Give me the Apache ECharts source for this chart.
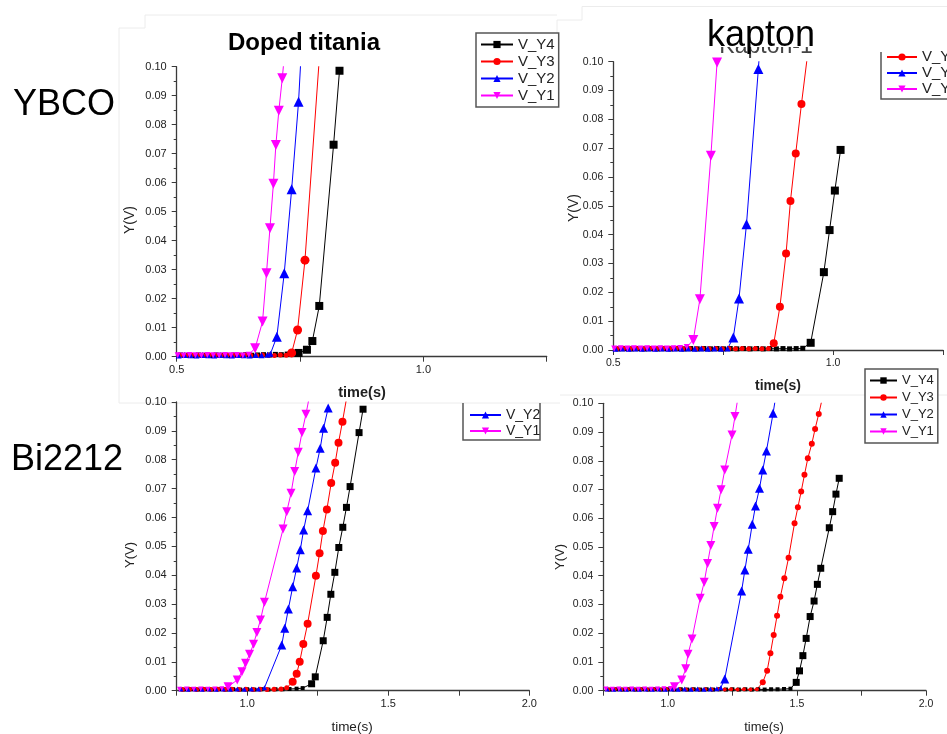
<!DOCTYPE html>
<html>
<head>
<meta charset="utf-8">
<script src="https://cdn.jsdelivr.net/npm/echarts@6/dist/echarts.min.js"></script>
<style>
html,body{margin:0;padding:0;background:#fff;}
#c{width:947px;height:734px;}
</style>
</head>
<body>
<div id="c"></div>
<script>
// ---------- DATA: [time(s), Y(V)] ----------
// YBCO / Doped titania
const ybDtY1 = [[0.502,0.0005],[0.514,0.0004],[0.526,0.0006],[0.538,0.0005],[0.550,0.0004],[0.562,0.0006],[0.574,0.0005],[0.586,0.0004],[0.598,0.0006],[0.610,0.0005],[0.622,0.0006],[0.634,0.0004],[0.646,0.0007],[0.659,0.0029],[0.674,0.0121],[0.682,0.0288],[0.689,0.0443],[0.696,0.0596],[0.701,0.0730],[0.707,0.0848],[0.714,0.0960],[0.720,0.1070]];
const ybDtY2 = [[0.504,0.0004],[0.516,0.0006],[0.528,0.0005],[0.540,0.0004],[0.552,0.0006],[0.564,0.0005],[0.576,0.0004],[0.588,0.0006],[0.600,0.0005],[0.612,0.0004],[0.624,0.0006],[0.636,0.0005],[0.648,0.0004],[0.660,0.0006],[0.672,0.0005],[0.684,0.0007],[0.690,0.0010],[0.703,0.0069],[0.718,0.0288],[0.733,0.0577],[0.747,0.0879],[0.754,0.1100]];
const ybDtY3 = [[0.506,0.0005],[0.518,0.0004],[0.530,0.0006],[0.542,0.0005],[0.554,0.0004],[0.566,0.0006],[0.578,0.0005],[0.590,0.0004],[0.602,0.0006],[0.614,0.0005],[0.626,0.0004],[0.638,0.0006],[0.650,0.0005],[0.662,0.0004],[0.674,0.0006],[0.686,0.0005],[0.698,0.0004],[0.710,0.0006],[0.722,0.0005],[0.733,0.0013],[0.745,0.0092],[0.760,0.0333],[0.790,0.1050]];
const ybDtY4 = [[0.508,0.0006],[0.520,0.0005],[0.532,0.0004],[0.544,0.0006],[0.556,0.0005],[0.568,0.0004],[0.580,0.0006],[0.592,0.0005],[0.604,0.0004],[0.616,0.0006],[0.628,0.0005],[0.640,0.0007],[0.652,0.0005],[0.664,0.0006],[0.676,0.0007],[0.688,0.0006],[0.700,0.0008],[0.712,0.0007],[0.724,0.0009],[0.736,0.0010],[0.747,0.0013],[0.764,0.0024],[0.775,0.0054],[0.789,0.0175],[0.818,0.0731],[0.830,0.0986]];

// YBCO / kapton
const ybKpY1 = [[0.502,0.0005],[0.517,0.0006],[0.532,0.0005],[0.547,0.0006],[0.562,0.0005],[0.577,0.0006],[0.592,0.0005],[0.607,0.0006],[0.622,0.0005],[0.637,0.0006],[0.652,0.0007],[0.667,0.0010],[0.682,0.0035],[0.697,0.0176],[0.722,0.0674],[0.736,0.0997]];
const ybKpY2 = [[0.505,0.0004],[0.520,0.0005],[0.535,0.0004],[0.550,0.0005],[0.565,0.0004],[0.580,0.0005],[0.595,0.0004],[0.610,0.0005],[0.625,0.0004],[0.640,0.0005],[0.655,0.0004],[0.670,0.0005],[0.685,0.0004],[0.700,0.0005],[0.715,0.0004],[0.730,0.0005],[0.745,0.0004],[0.760,0.0005],[0.773,0.0043],[0.786,0.0179],[0.803,0.0436],[0.830,0.0975],[0.843,0.1250]];
const ybKpY3 = [[0.508,0.0004],[0.523,0.0005],[0.538,0.0004],[0.553,0.0005],[0.568,0.0004],[0.583,0.0005],[0.598,0.0004],[0.613,0.0005],[0.628,0.0004],[0.643,0.0005],[0.658,0.0004],[0.673,0.0005],[0.688,0.0004],[0.703,0.0005],[0.718,0.0004],[0.733,0.0005],[0.748,0.0004],[0.763,0.0005],[0.778,0.0004],[0.793,0.0005],[0.808,0.0004],[0.823,0.0005],[0.838,0.0004],[0.853,0.0005],[0.865,0.0023],[0.879,0.0150],[0.893,0.0335],[0.903,0.0517],[0.915,0.0682],[0.928,0.0853],[0.942,0.1025]];
const ybKpY4 = [[0.511,0.0004],[0.526,0.0005],[0.541,0.0004],[0.556,0.0005],[0.571,0.0004],[0.586,0.0005],[0.601,0.0004],[0.616,0.0005],[0.631,0.0004],[0.646,0.0005],[0.661,0.0004],[0.676,0.0005],[0.691,0.0004],[0.706,0.0005],[0.721,0.0004],[0.736,0.0005],[0.751,0.0004],[0.766,0.0005],[0.781,0.0004],[0.796,0.0005],[0.811,0.0004],[0.826,0.0005],[0.841,0.0004],[0.856,0.0005],[0.871,0.0004],[0.886,0.0005],[0.901,0.0004],[0.916,0.0005],[0.931,0.0006],[0.949,0.0025],[0.979,0.0270],[0.992,0.0416],[1.004,0.0553],[1.017,0.0694]];

// Bi2212 / Doped titania
const biDtY1 = [[0.760,0.0005],[0.785,0.0006],[0.810,0.0005],[0.835,0.0006],[0.860,0.0005],[0.885,0.0006],[0.910,0.0007],[0.932,0.0014],[0.9647,0.0037],[0.9813,0.0066],[0.9941,0.0095],[1.0082,0.0126],[1.0224,0.0161],[1.0342,0.0202],[1.047,0.0245],[1.0611,0.0306],[1.1271,0.0560],[1.1401,0.0620],[1.1553,0.0684],[1.1683,0.0759],[1.181,0.0826],[1.1941,0.0894],[1.2082,0.0958],[1.222,0.1027]];
const biDtY2 = [[0.765,0.0006],[0.790,0.0005],[0.815,0.0006],[0.840,0.0005],[0.865,0.0006],[0.890,0.0005],[0.915,0.0006],[0.940,0.0005],[0.965,0.0006],[0.990,0.0005],[1.015,0.0006],[1.040,0.0006],[1.061,0.0010],[1.1224,0.0158],[1.133,0.0216],[1.1459,0.0283],[1.1612,0.0360],[1.1753,0.0425],[1.1882,0.0488],[1.200,0.0557],[1.2141,0.0623],[1.2435,0.0771],[1.2588,0.0840],[1.2706,0.0909],[1.287,0.0979]];
const biDtY3 = [[0.770,0.0004],[0.795,0.0005],[0.820,0.0004],[0.845,0.0005],[0.870,0.0004],[0.895,0.0005],[0.920,0.0004],[0.945,0.0005],[0.970,0.0004],[0.995,0.0005],[1.020,0.0004],[1.045,0.0005],[1.070,0.0004],[1.095,0.0005],[1.120,0.0006],[1.1401,0.0010],[1.1612,0.0031],[1.1753,0.0059],[1.186,0.0100],[1.1988,0.0162],[1.2141,0.0232],[1.2435,0.0398],[1.2565,0.0476],[1.2683,0.0553],[1.2824,0.0628],[1.2977,0.0719],[1.3118,0.0790],[1.3236,0.0859],[1.3377,0.0932],[1.352,0.1012]];
const biDtY4 = [[0.775,0.0004],[0.800,0.0005],[0.825,0.0004],[0.850,0.0005],[0.875,0.0004],[0.900,0.0005],[0.925,0.0004],[0.950,0.0005],[0.975,0.0004],[1.000,0.0005],[1.025,0.0004],[1.050,0.0005],[1.075,0.0004],[1.100,0.0005],[1.125,0.0005],[1.150,0.0006],[1.175,0.0007],[1.1965,0.0009],[1.2283,0.0024],[1.2412,0.0048],[1.2694,0.0173],[1.2835,0.0254],[1.2965,0.0334],[1.3106,0.0410],[1.3247,0.0496],[1.3388,0.0566],[1.3518,0.0635],[1.3647,0.0707],[1.3965,0.0894],[1.4106,0.0975]];

// Bi2212 / kapton
const biKpY1 = [[0.760,0.0006],[0.785,0.0005],[0.810,0.0006],[0.835,0.0005],[0.860,0.0006],[0.885,0.0005],[0.910,0.0006],[0.935,0.0005],[0.960,0.0006],[0.985,0.0007],[1.010,0.0008],[1.0256,0.0014],[1.0538,0.0037],[1.0692,0.0076],[1.0781,0.0127],[1.0935,0.0180],[1.1254,0.0322],[1.1408,0.0377],[1.1538,0.0443],[1.1665,0.0505],[1.1792,0.0571],[1.1923,0.0635],[1.2062,0.0699],[1.2204,0.0768],[1.2485,0.0890],[1.2600,0.0954],[1.2750,0.1040]];
const biKpY2 = [[0.765,0.0006],[0.790,0.0005],[0.815,0.0006],[0.840,0.0005],[0.865,0.0006],[0.890,0.0005],[0.915,0.0006],[0.940,0.0005],[0.965,0.0006],[0.990,0.0005],[1.015,0.0006],[1.040,0.0005],[1.065,0.0006],[1.090,0.0005],[1.115,0.0006],[1.140,0.0005],[1.165,0.0006],[1.190,0.0007],[1.205,0.0010],[1.2204,0.0041],[1.2858,0.0347],[1.2985,0.0420],[1.3115,0.0492],[1.3269,0.0579],[1.3396,0.0643],[1.3550,0.0704],[1.3677,0.0768],[1.3819,0.0834],[1.4077,0.0965],[1.4200,0.1035]];
const biKpY3 = [[0.770,0.0004],[0.795,0.0005],[0.820,0.0004],[0.845,0.0005],[0.870,0.0004],[0.895,0.0005],[0.920,0.0004],[0.945,0.0005],[0.970,0.0004],[0.995,0.0005],[1.020,0.0004],[1.045,0.0005],[1.070,0.0004],[1.095,0.0005],[1.120,0.0004],[1.145,0.0005],[1.170,0.0004],[1.195,0.0005],[1.220,0.0004],[1.245,0.0005],[1.270,0.0004],[1.295,0.0005],[1.320,0.0004],[1.345,0.0005],[1.3677,0.0029],[1.3846,0.0069],[1.3973,0.0130],[1.4100,0.0194],[1.4231,0.0261],[1.4358,0.0327],[1.4512,0.0391],[1.4677,0.0463],[1.4908,0.0583],[1.5038,0.0638],[1.5165,0.0693],[1.5292,0.0751],[1.5423,0.0809],[1.5577,0.0859],[1.5704,0.0911],[1.5846,0.0963],[1.5990,0.1020]];
const biKpY4 = [[0.775,0.0004],[0.800,0.0005],[0.825,0.0004],[0.850,0.0005],[0.875,0.0004],[0.900,0.0005],[0.925,0.0004],[0.950,0.0005],[0.975,0.0004],[1.000,0.0005],[1.025,0.0004],[1.050,0.0005],[1.075,0.0004],[1.100,0.0005],[1.125,0.0004],[1.150,0.0005],[1.175,0.0004],[1.200,0.0005],[1.225,0.0004],[1.250,0.0005],[1.275,0.0004],[1.300,0.0005],[1.325,0.0004],[1.350,0.0005],[1.375,0.0004],[1.400,0.0005],[1.425,0.0005],[1.450,0.0006],[1.475,0.0007],[1.4973,0.0029],[1.5100,0.0069],[1.5231,0.0122],[1.5358,0.0182],[1.5512,0.0258],[1.5665,0.0312],[1.5792,0.0370],[1.5923,0.0426],[1.6254,0.0567],[1.6385,0.0623],[1.6512,0.0684],[1.6638,0.0739]];

const seriesNames = ['V_Y4','V_Y3','V_Y2','V_Y1'];
const xRanges = [[0.5,1.25],[0.5,1.25],[0.75,2.0],[0.75,2.0]];
const yRange = [0, 0.1];
const rowLabels = ['YBCO','Bi2212'];
const panelTitles = ['Doped titania','kapton'];

// ---------- STYLE ----------
const FONT = '"Liberation Sans", Arial, sans-serif';
const COLORS = {V_Y4:'#000000', V_Y3:'#ff0000', V_Y2:'#0000ff', V_Y1:'#ff00ff'};
const SYMBOLS = {V_Y4:['rect',0], V_Y3:['circle',0], V_Y2:['triangle',0], V_Y1:['triangle',180]};

const panelData = [
  {V_Y4:ybDtY4, V_Y3:ybDtY3, V_Y2:ybDtY2, V_Y1:ybDtY1},
  {V_Y4:ybKpY4, V_Y3:ybKpY3, V_Y2:ybKpY2, V_Y1:ybKpY1},
  {V_Y4:biDtY4, V_Y3:biDtY3, V_Y2:biDtY2, V_Y1:biDtY1},
  {V_Y4:biKpY4, V_Y3:biKpY3, V_Y2:biKpY2, V_Y1:biKpY1}
];
const grids = [
  {left:176.7, top:66.7, width:370, height:290},
  {left:613.3, top:61.7, width:329.7, height:288.3},
  {left:176.7, top:402, width:352.6, height:288.7},
  {left:603.3, top:403.3, width:322.7, height:287.4}
];
const symSizes = [
  {V_Y4:8, V_Y3:9, V_Y2:10, V_Y1:10},
  {V_Y4:8, V_Y3:8, V_Y2:10, V_Y1:10},
  {V_Y4:7, V_Y3:8, V_Y2:9, V_Y1:9},
  {V_Y4:7, V_Y3:6, V_Y2:9, V_Y1:9}
];
const labelFs = [11, 10.5, 11, 10.5];

const xAxes = xRanges.map((r, i) => ({
  type:'value', gridIndex:i, min:r[0], max:r[1], interval:0.25,
  axisLine:{show:true, onZero:false, lineStyle:{color:'#3a3a3a', width:1.3}},
  axisTick:{show:true, inside:false, length:5, lineStyle:{color:'#3a3a3a', width:1}},
  minorTick:{show:false}, splitLine:{show:false},
  axisLabel:{fontFamily:FONT, fontSize:labelFs[i], color:'#222', margin:8,
    formatter: v => (Math.abs(v*2 - Math.round(v*2)) < 1e-6 ? v.toFixed(1) : '')}
}));
const yAxes = grids.map((g, i) => ({
  type:'value', gridIndex:i, min:yRange[0], max:yRange[1], interval:0.01,
  axisLine:{show:true, onZero:false, lineStyle:{color:'#3a3a3a', width:1.3}},
  axisTick:{show:true, inside:false, length:5, lineStyle:{color:'#3a3a3a', width:1}},
  minorTick:{show:true, splitNumber:2, length:3, lineStyle:{color:'#3a3a3a', width:1}},
  splitLine:{show:false},
  axisLabel:{fontFamily:FONT, fontSize:labelFs[i], color:'#222', margin:10,
    formatter: v => v.toFixed(2)}
}));

const series = [];
panelData.forEach((pd, i) => {
  seriesNames.forEach(n => {
    const big = symSizes[i][n];
    series.push({
      type:'line', name:n, xAxisIndex:i, yAxisIndex:i, data:pd[n],
      symbol:SYMBOLS[n][0], symbolRotate:SYMBOLS[n][1],
      symbolSize:(v) => (v[1] < 0.0012 ? Math.round(big*0.6) : big),
      itemStyle:{color:COLORS[n]}, lineStyle:{color:COLORS[n], width:1},
      clip:true, animation:false, emphasis:{disabled:true}
    });
  });
});

const legTxt = (fs, lh) => ({fontFamily:FONT, fontSize:fs, color:'#222', lineHeight:lh});
const legends = [
  {data:['V_Y4','V_Y3','V_Y2','V_Y1'], orient:'vertical', left:476, top:33, padding:[3,4,3,4],
   itemGap:0, itemWidth:32, itemHeight:9, itemTextGap:4, borderColor:'#555', borderWidth:1.5,
   backgroundColor:'#fff', textStyle:legTxt(15,17), selectedMode:false},
  {data:['V_Y3','V_Y2','V_Y1'], orient:'vertical', left:886, top:49, padding:0,
   itemGap:0, itemWidth:30, itemHeight:9, itemTextGap:3, textStyle:legTxt(15,16), selectedMode:false},
  {data:['V_Y2','V_Y1'], orient:'vertical', left:469, top:407, padding:0,
   itemGap:0, itemWidth:31, itemHeight:9, itemTextGap:3, textStyle:legTxt(14,16), selectedMode:false},
  {data:['V_Y4','V_Y3','V_Y2','V_Y1'], orient:'vertical', left:865, top:369, padding:[3,4,3,4],
   itemGap:0, itemWidth:27, itemHeight:8, itemTextGap:3, borderColor:'#555', borderWidth:1.5,
   backgroundColor:'#fff', textStyle:legTxt(13,17), selectedMode:false}
];

const faint = '#ececec';
const txt = (x, y, t, fs, opts={}) => ({
  type:'text', x, y, style:{text:t, fontFamily:FONT, fontSize:fs, fill:opts.fill||'#111',
  fontWeight:opts.weight||'normal', align:'center', verticalAlign:'middle'}});
const rtxt = (x, y, t, fs) => ({type:'text', x, y, rotation:Math.PI/2,
  style:{text:t, fontFamily:FONT, fontSize:fs, fill:'#222', align:'center', verticalAlign:'middle'}});

const graphics = [
  // faint screenshot frames
  {type:'polyline', shape:{points:[[119,403],[119,28],[145,28],[145,15],[557,15]]}, style:{stroke:faint, lineWidth:1, fill:null}},
  {type:'polyline', shape:{points:[[557,33],[557,20],[582,20],[582,6.5],[947,6.5]]}, style:{stroke:faint, lineWidth:1, fill:null}},
  {type:'line', shape:{x1:119, y1:403, x2:560, y2:403}, style:{stroke:faint, lineWidth:1}},
  {type:'line', shape:{x1:560, y1:395, x2:947, y2:395}, style:{stroke:faint, lineWidth:1}},
  // row labels
  {type:'text', x:13, y:105, style:{text:rowLabels[0], fontFamily:FONT, fontSize:36, fill:'#000', align:'left', verticalAlign:'middle'}},
  {type:'text', x:11, y:460, style:{text:rowLabels[1], fontFamily:FONT, fontSize:36, fill:'#000', align:'left', verticalAlign:'middle'}},
  // panel titles
  txt(304, 43.5, panelTitles[0], 24, {weight:'bold', fill:'#000'}),
  {type:'text', x:766, y:47, z:1, style:{text:'Kapton-1', fontFamily:FONT, fontSize:23, fill:'#444', align:'center', verticalAlign:'middle'}},
  {type:'rect', z:2, shape:{x:700, y:18, width:130, height:29}, style:{fill:'#fff'}},
  {type:'text', x:761, y:36.5, z:3, style:{text:panelTitles[1], fontFamily:FONT, fontSize:36, fill:'#000', align:'center', verticalAlign:'middle'}},
  // partial legend boxes
  {type:'polyline', shape:{points:[[881,52],[881,99],[947,99]]}, style:{stroke:'#555', lineWidth:1.5, fill:null}},
  {type:'polyline', shape:{points:[[463,403],[463,440],[540,440],[540,403]]}, style:{stroke:'#555', lineWidth:1.5, fill:null}},
  // axis names
  txt(362, 393, 'time(s)', 14.5, {weight:'bold', fill:'#222'}),
  rtxt(130, 220, 'Y(V)', 14),
  txt(778, 386, 'time(s)', 14, {weight:'bold', fill:'#222'}),
  rtxt(574, 208, 'Y(V)', 14),
  txt(352, 727, 'time(s)', 13.5, {fill:'#222'}),
  rtxt(130, 555, 'Y(V)', 13),
  txt(764, 727, 'time(s)', 13, {fill:'#222'}),
  rtxt(560, 557, 'Y(V)', 13)
];

const chart = echarts.init(document.getElementById('c'), null, {renderer:'canvas'});
chart.setOption({
  backgroundColor:'#fff',
  animation:false,
  grid:grids.map(g => Object.assign({containLabel:false, outerBoundsMode:'none'}, g)),
  xAxis:xAxes,
  yAxis:yAxes,
  legend:legends,
  series:series,
  graphic:graphics
});
</script>
</body>
</html>
